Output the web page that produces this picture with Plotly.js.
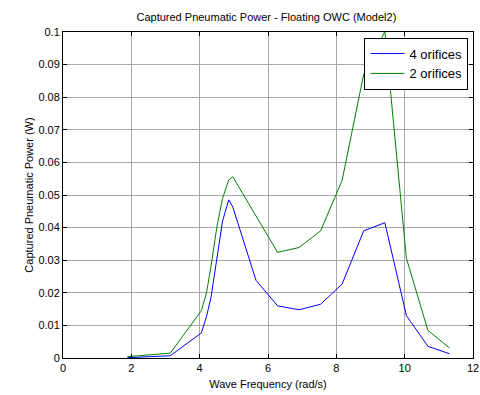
<!DOCTYPE html>
<html><head><meta charset="utf-8">
<script src="https://cdn.plot.ly/plotly-3.0.1.min.js"></script>
<style>html,body{margin:0;padding:0;background:#fff}#chart{width:480px;height:395px}</style>
</head><body><div id="chart"></div>
<script>
const freq = [1.885, 3.14, 4.05, 4.2, 4.33, 4.5, 4.67, 4.85, 4.97, 5.65, 6.28, 6.91, 7.54, 8.17, 8.80, 9.42, 10.05, 10.68, 11.31];
const power4 = [0.0001, 0.0007, 0.0077, 0.0127, 0.0185, 0.030, 0.042, 0.0485, 0.0463, 0.0238, 0.016, 0.0148, 0.0165, 0.0227, 0.039, 0.0415, 0.013, 0.0036, 0.0013];
const power2 = [0.0004, 0.0015, 0.0145, 0.020, 0.028, 0.040, 0.049, 0.0546, 0.0556, 0.0435, 0.0324, 0.0339, 0.039, 0.0545, 0.087, 0.1002, 0.0306, 0.0085, 0.0031];
const seriesNames = ['4 orifices', '2 orifices'];
const xTicks = [0, 2, 4, 6, 8, 10, 12];
const yTicks = [0, 0.01, 0.02, 0.03, 0.04, 0.05, 0.06, 0.07, 0.08, 0.09, 0.1];

const font = {family: 'Liberation Sans, Arial, sans-serif', size: 11, color: '#000'};
const axisCommon = {
  showline: true, linecolor: '#000', linewidth: 1, mirror: 'ticks',
  ticks: 'inside', ticklen: 4, tickcolor: '#000', tickwidth: 1,
  showgrid: true, gridcolor: '#a8a8a8', gridwidth: 1,
  zeroline: false, tickfont: font
};
const data = [
  {x: freq, y: power4, name: seriesNames[0], type: 'scatter', mode: 'lines', line: {color: '#0000ff', width: 1}},
  {x: freq, y: power2, name: seriesNames[1], type: 'scatter', mode: 'lines', line: {color: '#008000', width: 1}}
];
const layout = {
  width: 480, height: 395,
  margin: {l: 63, r: 7, t: 32, b: 37},
  paper_bgcolor: '#fff', plot_bgcolor: '#fff',
  font: font,
  title: {text: 'Captured Pneumatic Power - Floating OWC (Model2)', font: font, x: 0.555, xanchor: 'center', y: 0.957, yanchor: 'middle'},
  xaxis: Object.assign({}, axisCommon, {range: [0, 12], tickvals: xTicks, ticktext: xTicks.map(String),
    title: {text: 'Wave Frequency (rad/s)', font: font, standoff: 7}}),
  yaxis: Object.assign({}, axisCommon, {range: [0, 0.1], tickvals: yTicks, ticktext: yTicks.map(String),
    title: {text: 'Captured Pneumatic Power (W)', font: font, standoff: 2}}),
  showlegend: true,
  legend: {x: 0.989, xanchor: 'right', y: 0.983, yanchor: 'top', bgcolor: '#fff', bordercolor: '#000', borderwidth: 1,
    font: {family: font.family, size: 13, color: '#000'}, tracegroupgap: 0, itemwidth: 34}
};
Plotly.newPlot('chart', data, layout, {staticPlot: true, displayModeBar: false});
</script></body></html>
